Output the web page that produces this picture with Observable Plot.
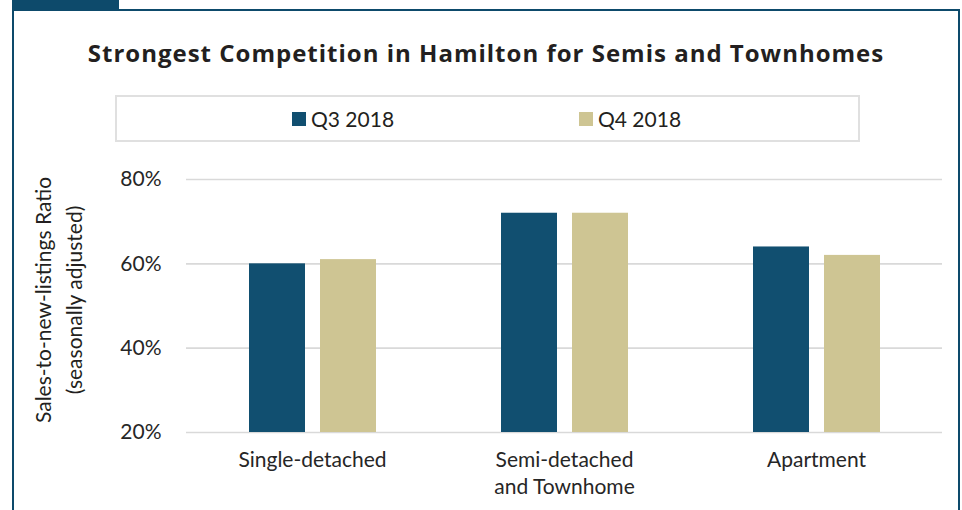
<!DOCTYPE html>
<html>
<head>
<meta charset="utf-8">
<script src="https://cdn.jsdelivr.net/npm/d3@7"></script>
<script src="https://cdn.jsdelivr.net/npm/@observablehq/plot@0.6"></script>
<style>
  html, body { margin: 0; padding: 0; background: #fff; }
  #wrap { position: relative; width: 962px; height: 510px; overflow: hidden; background: #fff; font-family: Lato, sans-serif; color: #231f20; }
  #tab { position: absolute; left: 12px; top: 0; width: 107px; height: 10px; background: #0d4a6b; }
  #frame { position: absolute; left: 12px; top: 9px; width: 944px; height: 600px; border: 2px solid #0d4a6b; }
  #title { position: absolute; left: 12px; width: 948px; top: 38px; text-align: center; font-family: "Open Sans", sans-serif; font-weight: 700; font-size: 24px; letter-spacing: 1px; line-height: 30px; white-space: nowrap; }
  #legend { position: absolute; left: 115px; top: 95px; width: 741px; height: 43px; border: 2px solid #e0e0e0; }
  .li { position: absolute; top: 0; height: 43px; display: flex; align-items: center; font-size: 21px; }
  .sw { width: 14px; height: 14px; margin-right: 5px; }
  #ylab { position: absolute; left: 58px; top: 300px; width: 0; height: 0; }
  #ylab > div { position: absolute; transform: translate(-50%, -50%) rotate(-90deg); white-space: nowrap; text-align: center; font-size: 21px; line-height: 31px; }
  #chart { position: absolute; left: 0; top: 150px; }
</style>
</head>
<body>
<div id="wrap">
  <div id="tab"></div>
  <div id="frame"></div>
  <div id="title"></div>
  <div id="legend"></div>
  <div id="ylab"><div></div></div>
  <div id="chart"></div>
</div>
<script>
const title = "Strongest Competition in Hamilton for Semis and Townhomes";
const yLabel = ["Sales-to-new-listings Ratio", "(seasonally adjusted)"];
const categories = ["Single-detached", "Semi-detached\nand Townhome", "Apartment"];
const series = ["Q3 2018", "Q4 2018"];
const q3Values = [60, 72, 64];
const q4Values = [61, 72, 62];
const yTicks = [20, 40, 60, 80];
const colors = ["#114f70", "#cec593"];

const seriesValues = [q3Values, q4Values];
const data = categories.flatMap((c, i) => series.map((s, j) => ({category: c, series: s, value: seriesValues[j][i]})));

const titleEl = document.getElementById("title");
titleEl.textContent = title;
const ylab = document.querySelector("#ylab > div");
ylab.innerHTML = yLabel.map(t => `<div>${t}</div>`).join("");

const legendPos = [175, 462];
const legend = document.getElementById("legend");
series.forEach((s, i) => {
  const item = document.createElement("div");
  item.className = "li";
  item.style.left = legendPos[i] + "px";
  item.innerHTML = `<span class="sw" style="background:${colors[i]}"></span><span>${s}</span>`;
  legend.appendChild(item);
});

const chart = Plot.plot({
  width: 962,
  height: 360,
  marginLeft: 185,
  marginRight: 19,
  marginTop: 29,
  marginBottom: 78,
  style: {fontFamily: "Lato, sans-serif", fontSize: "21px", color: "#262626", background: "transparent"},
  fx: {domain: categories, padding: 0, label: null},
  x: {domain: series, paddingInner: 0.212, paddingOuter: 0.87, axis: null},
  y: {domain: [yTicks[0], yTicks[yTicks.length - 1]], label: null},
  color: {domain: series, range: colors},
  marks: [
    Plot.gridY(yTicks, {stroke: "#d9d9d9", strokeOpacity: 1, strokeWidth: 1.6}),
    Plot.axisY(yTicks, {tickSize: 0, tickPadding: 25, tickFormat: d => d + "%", label: null}),
    Plot.axisFx({anchor: "bottom", tickSize: 0, tickPadding: 15, lineHeight: 1.3, label: null}),
    Plot.barY(data, {fx: "category", x: "series", y1: yTicks[0], y2: "value", fill: "series"})
  ]
});
document.getElementById("chart").appendChild(chart);
</script>
</body>
</html>
